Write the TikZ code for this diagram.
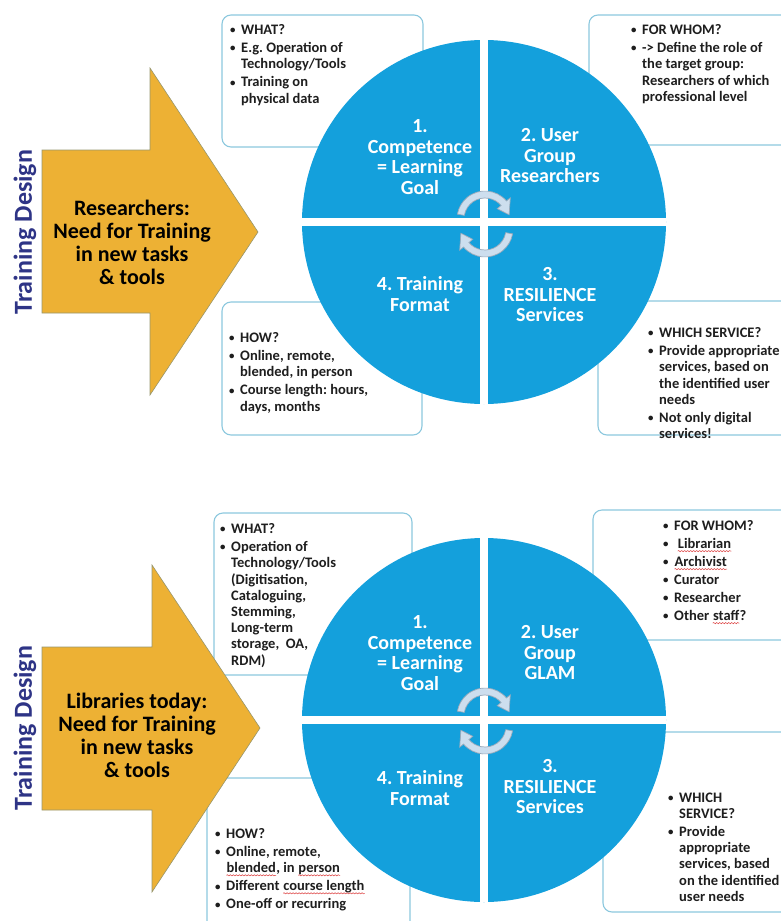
\documentclass[tikz,border=0pt]{standalone}
\usepackage{fontspec}
\usepackage{graphicx}
\setmainfont{Carlito}
\usetikzlibrary{decorations.pathmorphing}
\frenchspacing

\definecolor{circblue}{RGB}{20,160,220}
\definecolor{boxline}{RGB}{140,200,222}
\definecolor{txtdark}{RGB}{30,30,30}
\definecolor{needfill}{RGB}{237,177,52}
\definecolor{needline}{RGB}{150,150,110}
\definecolor{designblue}{RGB}{46,52,134}
\definecolor{cyclefill}{RGB}{205,222,238}
\definecolor{cycleline}{RGB}{155,170,186}
\definecolor{spellred}{RGB}{220,60,60}

% bullet and hanging indent for the note boxes
\newcommand\bul{\makebox[11pt][l]{\raisebox{0.8pt}{\scalebox{0.75}{\textbullet}}}}
\newcommand\ind{\hspace*{11pt}}
% red wavy underline under a word
\newcommand\spell[1]{\tikz[baseline=(w.base)]{\node[inner sep=0pt, text=txtdark] (w) {#1};
  \draw[spellred, line width=0.5pt, decorate, decoration={snake, amplitude=0.6pt, segment length=3pt}]
    ([yshift=-2.4pt]w.base west) -- ([yshift=-2.4pt]w.base east);}}

\begin{document}
\begin{tikzpicture}[x=1pt, y=-1pt,
    infobox/.style={draw=boxline, line width=1.1pt, rounded corners=9pt, fill=white},
    notetext/.style={anchor=north west, inner sep=0pt, align=left, text=txtdark,
        font=\bfseries\fontsize{14.5}{16.2}\selectfont},
    needarrow/.style={fill=needfill, draw=needline, line width=0.6pt},
    needtext/.style={align=center, text=black, font=\bfseries\fontsize{22}{23}\selectfont},
    designlabel/.style={rotate=90, text=designblue, font=\bfseries\fontsize{26}{28}\selectfont},
    quadcircle/.style={circle, fill=circblue, minimum size=364pt, inner sep=0pt},
    gap/.style={white, line width=8pt},
    quadtext/.style={align=center, text=white, font=\bfseries\fontsize{20}{20.5}\selectfont},
    cyclearrow/.style={fill=cyclefill, draw=cycleline, line width=0.7pt}]
\useasboundingbox (0,0) rectangle (781,921);

% ---------- upper panel ----------
\draw[infobox] (222,15) rectangle (423,147);
\draw[infobox] (589,15) rectangle (790,145);
\draw[infobox] (222,302) rectangle (422,435);
\draw[infobox] (598,301) rectangle (790,435);

\draw[needarrow] (42,150) -- (150,150) -- (150,68) -- (258,232) -- (150,395)
    -- (150,313) -- (42,313) -- cycle;
\node[needtext] (need-a) at (132,242) {Researchers:\\Need for Training\\in new tasks\\\& tools};
\node[designlabel] (design-a) at (25,232) {Training Design};

\node[quadcircle] (circ-a) at (484,222) {};
\draw[gap] (circ-a.west) -- (circ-a.east);
\draw[gap] (circ-a.north) -- (circ-a.south);

\node[quadtext] (comp-a) at (420,157) {1.\\Competence\\= Learning\\Goal};
\node[quadtext] (user-a) at (550,156) {2. User\\Group\\Researchers};
\node[quadtext] (form-a) at (420,294) {4. Training\\Format};
\node[quadtext] (serv-a) at (550,295) {3.\\RESILIENCE\\Services};

\begin{scope}[shift={(485,219)}]
  \draw[cyclearrow] (190:21) arc (190:320:21) -- (320:16) -- (350:24.5)
      -- (320:33) -- (320:28) arc (320:190:28) -- cycle;
\end{scope}
\begin{scope}[shift={(485,229)}]
  \draw[cyclearrow] (10:21) arc (10:140:21) -- (140:16) -- (170:24.5)
      -- (140:33) -- (140:28) arc (140:10:28) -- cycle;
\end{scope}

\node[notetext] (what-a) at (230,24.5) {\bul WHAT?\\[1.8pt]
  \bul E.g. Operation of\\ \ind Technology/Tools\\[1.8pt]
  \bul Training on\\ \ind physical data};
\node[notetext] (whom-a) at (631,24.5) {\bul FOR WHOM?\\[1.8pt]
  \bul -> Define the role of\\ \ind the target group:\\ \ind Researchers of which\\
  \ind professional level};
\node[notetext] (how-a) at (229,332.5) {\bul HOW?\\[1.8pt]
  \bul Online, remote,\\ \ind blended, in person\\[1.8pt]
  \bul Course length: hours,\\ \ind days, months};
\node[notetext] (which-a) at (648,327.5) {\bul WHICH SERVICE?\\[1.8pt]
  \bul Provide appropriate\\ \ind services, based on\\ \ind the identified user\\
  \ind needs\\[1.8pt]
  \bul Not only digital\\ \ind services!};

% ---------- lower panel ----------
\draw[infobox] (214,513) rectangle (412,675);
\draw[infobox] (593,510) rectangle (790,640);
\draw[infobox] (207,778) rectangle (410,935);
\draw[infobox] (603,732) rectangle (790,912);

\draw[needarrow] (42,647) -- (152,647) -- (152,565) -- (260,728) -- (152,892)
    -- (152,810) -- (42,810) -- cycle;
\node[needtext] (need-b) at (137,735) {Libraries today:\\Need for Training\\in new tasks\\\& tools};
\node[designlabel] (design-b) at (25,728) {Training Design};

\node[quadcircle] (circ-b) at (484,720) {};
\draw[gap] (circ-b.west) -- (circ-b.east);
\draw[gap] (circ-b.north) -- (circ-b.south);

\node[quadtext] (comp-b) at (420,653) {1.\\Competence\\= Learning\\Goal};
\node[quadtext] (user-b) at (550,653) {2. User\\Group\\GLAM};
\node[quadtext] (form-b) at (420,788) {4. Training\\Format};
\node[quadtext] (serv-b) at (550,787) {3.\\RESILIENCE\\Services};

\begin{scope}[shift={(485,716)}]
  \draw[cyclearrow] (190:21) arc (190:320:21) -- (320:16) -- (350:24.5)
      -- (320:33) -- (320:28) arc (320:190:28) -- cycle;
\end{scope}
\begin{scope}[shift={(485,726)}]
  \draw[cyclearrow] (10:21) arc (10:140:21) -- (140:16) -- (170:24.5)
      -- (140:33) -- (140:28) arc (140:10:28) -- cycle;
\end{scope}

\node[notetext] (what-b) at (220,523.5) {\bul WHAT?\\[1.8pt]
  \bul Operation of\\ \ind Technology/Tools\\ \ind (Digitisation,\\
  \ind Cataloguing,\\ \ind Stemming,\\ \ind Long-term\\ \ind storage,~ OA,\\ \ind RDM)};
\node[notetext] (whom-b) at (663,520.5) {\bul FOR WHOM?\\[1.8pt]
  \bul ~\spell{Librarian}\\[1.8pt]
  \bul \spell{Archivist}\\[1.8pt]
  \bul Curator\\[1.8pt]
  \bul Researcher\\[1.8pt]
  \bul Other \spell{staff}?};
\node[notetext] (which-b) at (668,792.5) {\bul WHICH\\ \ind SERVICE?\\[1.8pt]
  \bul Provide\\ \ind appropriate\\ \ind services, based\\ \ind on the identified\\
  \ind user needs};
\node[notetext] (how-b) at (215,828.5) {\bul HOW?\\[1.8pt]
  \bul Online, remote,\\ \ind \spell{blended}, in \spell{person}\\[1.8pt]
  \bul Different \spell{course length}\\[1.8pt]
  \bul One-off or recurring};
\end{tikzpicture}
\end{document}
